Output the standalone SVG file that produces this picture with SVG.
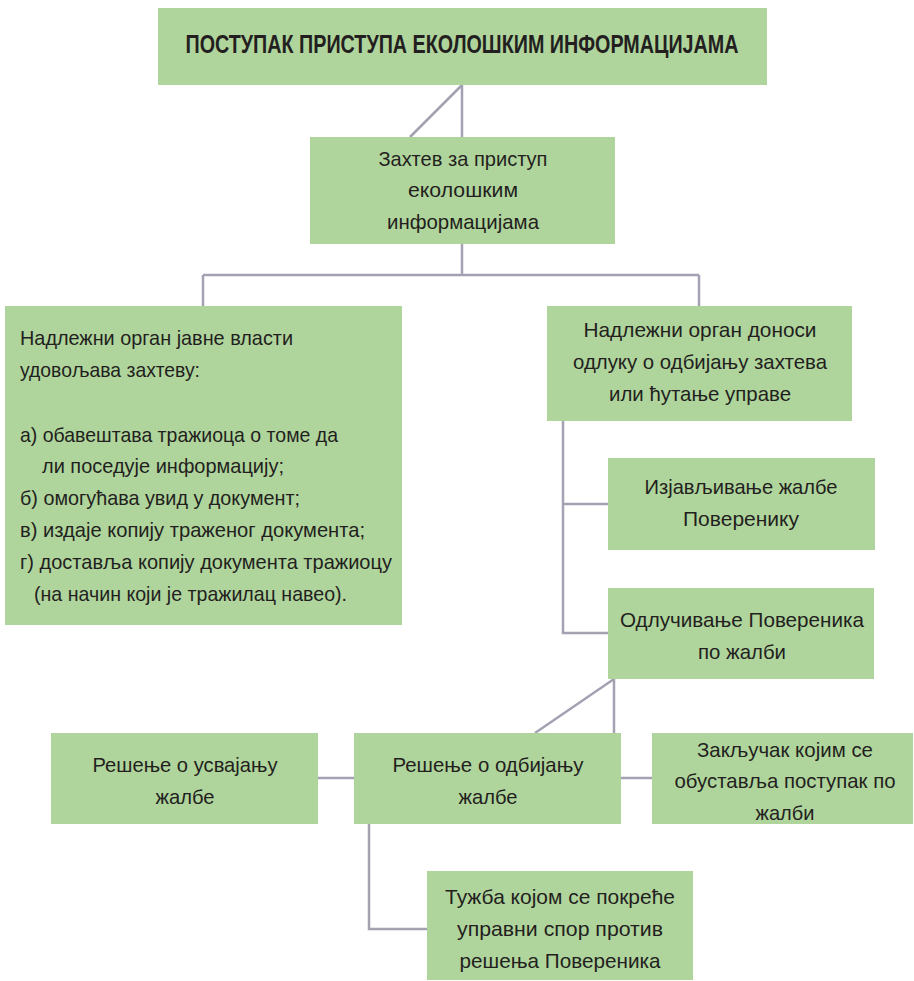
<svg xmlns="http://www.w3.org/2000/svg" width="914" height="981" viewBox="0 0 914 981">
<style>
.box{fill:#b0d59c;}
.t{font-family:"Liberation Sans","Noto Sans",sans-serif;font-size:21px;fill:#231f20;}
.c{text-anchor:middle;}
.title{font-family:"Liberation Sans","Noto Sans",sans-serif;font-size:25px;font-weight:bold;fill:#231f20;text-anchor:middle;}
.conn{stroke:#a3a2b3;stroke-width:2.5;fill:none;}
</style>
<rect width="914" height="981" fill="#ffffff"/>
<g id="connectors" class="conn">
<path d="M462,85 V137 M462,85 L410,137"/>
<path d="M462,244 V275 M203,275 H699 M203,275 V306 M699,275 V306"/>
<path d="M563,421 V633 H608 M563,504 H608"/>
<path d="M614,679 V733 M614,679 L535,733"/>
<path d="M318,778 H354 M621,778 H652"/>
<path d="M369,824 V929 H427"/>
</g>
<g id="title">
<rect class="box" x="158" y="8" width="609" height="77"/>
<text class="title" x="462" y="53" textLength="553" lengthAdjust="spacingAndGlyphs">ПОСТУПАК ПРИСТУПА ЕКОЛОШКИМ ИНФОРМАЦИЈАМА</text>
</g>
<g id="zahtev">
<rect class="box" x="310" y="137" width="305" height="107"/>
<text class="t c" x="463" y="166" textLength="169" lengthAdjust="spacingAndGlyphs">Захтев за приступ</text>
<text class="t c" x="463" y="197" textLength="110" lengthAdjust="spacingAndGlyphs">еколошким</text>
<text class="t c" x="463" y="229" textLength="152" lengthAdjust="spacingAndGlyphs">информацијама</text>
</g>
<g id="udovoljava">
<rect class="box" x="5" y="306" width="397" height="319"/>
<text class="t" x="20" y="345" textLength="273" lengthAdjust="spacingAndGlyphs">Надлежни орган јавне власти</text>
<text class="t" x="20" y="377" textLength="180" lengthAdjust="spacingAndGlyphs">удовољава захтеву:</text>
<text class="t" x="20" y="442" textLength="318" lengthAdjust="spacingAndGlyphs">а) обавештава тражиоца о томе да</text>
<text class="t" x="42" y="473" textLength="242" lengthAdjust="spacingAndGlyphs">ли поседује информацију;</text>
<text class="t" x="20" y="505" textLength="280" lengthAdjust="spacingAndGlyphs">б) омогућава увид у документ;</text>
<text class="t" x="20" y="537" textLength="345" lengthAdjust="spacingAndGlyphs">в) издаје копију траженог документа;</text>
<text class="t" x="20" y="569" textLength="372" lengthAdjust="spacingAndGlyphs">г) доставља копију документа тражиоцу</text>
<text class="t" x="34" y="601" textLength="313" lengthAdjust="spacingAndGlyphs">(на начин који је тражилац навео).</text>
</g>
<g id="odbijanje-zahteva">
<rect class="box" x="547" y="306" width="305" height="115"/>
<text class="t c" x="700" y="337" textLength="233" lengthAdjust="spacingAndGlyphs">Надлежни орган доноси</text>
<text class="t c" x="700" y="369" textLength="254" lengthAdjust="spacingAndGlyphs">одлуку о одбијању захтева</text>
<text class="t c" x="700" y="401" textLength="182" lengthAdjust="spacingAndGlyphs">или ћутање управе</text>
</g>
<g id="izjavljivanje">
<rect class="box" x="608" y="458" width="267" height="92"/>
<text class="t c" x="741" y="494" textLength="193" lengthAdjust="spacingAndGlyphs">Изјављивање жалбе</text>
<text class="t c" x="741" y="526" textLength="116" lengthAdjust="spacingAndGlyphs">Поверенику</text>
</g>
<g id="odlucivanje">
<rect class="box" x="608" y="588" width="266" height="91"/>
<text class="t c" x="742" y="627" textLength="244" lengthAdjust="spacingAndGlyphs">Одлучивање Повереника</text>
<text class="t c" x="742" y="659" textLength="88" lengthAdjust="spacingAndGlyphs">по жалби</text>
</g>
<g id="usvajanje">
<rect class="box" x="51" y="733" width="267" height="91"/>
<text class="t c" x="185" y="772" textLength="185" lengthAdjust="spacingAndGlyphs">Решење о усвајању</text>
<text class="t c" x="185" y="804" textLength="59" lengthAdjust="spacingAndGlyphs">жалбе</text>
</g>
<g id="odbijanje-zalbe">
<rect class="box" x="354" y="733" width="267" height="91"/>
<text class="t c" x="488" y="772" textLength="191" lengthAdjust="spacingAndGlyphs">Решење о одбијању</text>
<text class="t c" x="488" y="804" textLength="59" lengthAdjust="spacingAndGlyphs">жалбе</text>
</g>
<g id="zakljucak">
<rect class="box" x="652" y="733" width="261" height="91"/>
<text class="t c" x="785" y="757" textLength="176" lengthAdjust="spacingAndGlyphs">Закључак којим се</text>
<text class="t c" x="785" y="788" textLength="221" lengthAdjust="spacingAndGlyphs">обуставља поступак по</text>
<text class="t c" x="785" y="820" textLength="59" lengthAdjust="spacingAndGlyphs">жалби</text>
</g>
<g id="tuzba">
<rect class="box" x="427" y="871" width="266" height="109"/>
<text class="t c" x="560" y="904" textLength="230" lengthAdjust="spacingAndGlyphs">Тужба којом се покреће</text>
<text class="t c" x="560" y="936" textLength="206" lengthAdjust="spacingAndGlyphs">управни спор против</text>
<text class="t c" x="560" y="968" textLength="201" lengthAdjust="spacingAndGlyphs">решења Повереника</text>
</g>
</svg>
